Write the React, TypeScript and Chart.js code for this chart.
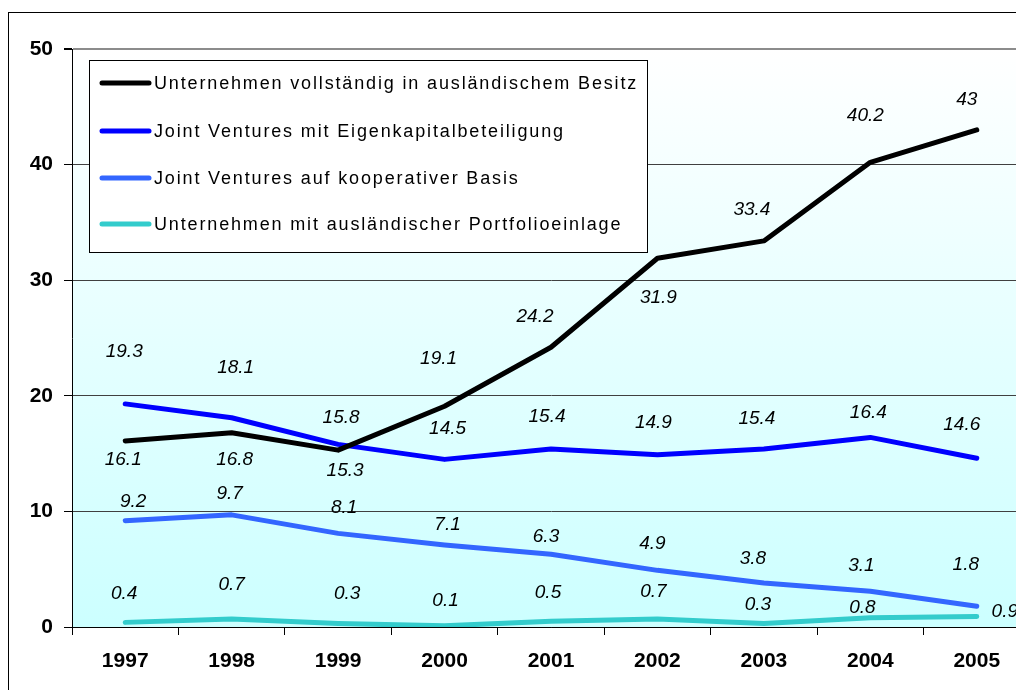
import React, { useEffect, useRef } from 'react';
import { Chart, registerables } from 'chart.js';

Chart.register(...registerables);

const categories = ['1997', '1998', '1999', '2000', '2001', '2002', '2003', '2004', '2005'];
const seriesNames = [
  'Unternehmen vollständig in ausländischem Besitz',
  'Joint Ventures mit Eigenkapitalbeteiligung',
  'Joint Ventures auf kooperativer Basis',
  'Unternehmen mit ausländischer Portfolioeinlage',
];
const whollyForeignOwned = [16.1, 16.8, 15.3, 19.1, 24.2, 31.9, 33.4, 40.2, 43];
const equityJointVentures = [19.3, 18.1, 15.8, 14.5, 15.4, 14.9, 15.4, 16.4, 14.6];
const cooperativeJointVentures = [9.2, 9.7, 8.1, 7.1, 6.3, 4.9, 3.8, 3.1, 1.8];
const portfolioInvestment = [0.4, 0.7, 0.3, 0.1, 0.5, 0.7, 0.3, 0.8, 0.9];
const yTickValues = [0, 10, 20, 30, 40, 50];

// styling (kept separate from data)
const seriesColors = ['#000000', '#0000FF', '#3366FF', '#33CCCC'];
// label placement offsets in px relative to each point: [dx, dy]
const labelOffsets: number[][][] = [
  [[-2, 19], [3, 27], [7, 21], [-6, -47], [-16, -31], [1, 39], [-12, -31], [-5, -47], [-10, -30]],
  [[-1, -52], [4, -50], [3, -27], [3, -31], [-4, -32], [-4, -32], [-7, -30], [-2, -25], [-15, -34]],
  [[8, -19], [-2, -21], [6, -26], [3, -20], [-5, -17], [-5, -27], [-11, -24], [-9, -25], [-11, -41]],
  [[-1, -29], [0, -34], [9, -30], [1, -25], [-3, -29], [-4, -27], [-6, -19], [-8, -10], [28, -5]],
];

const FONT = "Arial, 'Liberation Sans', sans-serif";

const bgPlugin = {
  id: 'bgPlugin',
  beforeDraw(chart: any) {
    const { ctx, chartArea: a } = chart;
    ctx.save();
    const g = ctx.createLinearGradient(0, a.top, 0, a.bottom);
    g.addColorStop(0, '#FFFFFF');
    g.addColorStop(1, '#CCFFFF');
    ctx.fillStyle = g;
    ctx.fillRect(a.left, a.top, a.right - a.left, a.bottom - a.top);
    ctx.restore();
  },
  afterDraw(chart: any) {
    const { ctx } = chart;
    ctx.save();
    // outer frame
    ctx.strokeStyle = '#000';
    ctx.lineWidth = 1;
    ctx.strokeRect(0.5, 4.5, 3000, 3000);
    ctx.restore();
  },
};

const labelPlugin = {
  id: 'labelPlugin',
  afterDatasetsDraw(chart: any) {
    const { ctx } = chart;
    ctx.save();
    ctx.font = `italic 19px ${FONT}`;
    ctx.fillStyle = '#000';
    ctx.textAlign = 'center';
    ctx.textBaseline = 'middle';
    chart.data.datasets.forEach((ds: any, i: number) => {
      const meta = chart.getDatasetMeta(i);
      meta.data.forEach((pt: any, j: number) => {
        const off = labelOffsets[i][j];
        ctx.fillText(String(ds.data[j]), pt.x + off[0], pt.y + off[1]);
      });
    });
    ctx.restore();
  },
};

const legendPlugin = {
  id: 'legendPlugin',
  afterDraw(chart: any) {
    const { ctx } = chart;
    ctx.save();
    const x0 = 81, y0 = 52, w = 558, h = 192;
    ctx.fillStyle = '#FFFFFF';
    ctx.fillRect(x0, y0, w, h);
    ctx.strokeStyle = '#000';
    ctx.lineWidth = 1;
    ctx.strokeRect(x0 + 0.5, y0 + 0.5, w, h);
    const rows = [75, 123, 170, 216];
    ctx.font = `18px ${FONT}`;
    (ctx as any).letterSpacing = '1.85px';
    ctx.textBaseline = 'middle';
    ctx.textAlign = 'left';
    chart.data.datasets.forEach((ds: any, i: number) => {
      const y = rows[i];
      ctx.strokeStyle = ds.borderColor;
      ctx.lineWidth = 5;
      ctx.lineCap = 'round';
      ctx.beginPath();
      ctx.moveTo(94, y);
      ctx.lineTo(141, y);
      ctx.stroke();
      ctx.fillStyle = '#000';
      ctx.fillText(ds.label, 146, y + 1);
    });
    ctx.restore();
  },
};

export default function App() {
  const ref = useRef<HTMLCanvasElement>(null);
  useEffect(() => {
    const seriesData = [whollyForeignOwned, equityJointVentures, cooperativeJointVentures, portfolioInvestment];
    const chart = new Chart(ref.current!, {
      type: 'line',
      data: {
        labels: categories,
        datasets: seriesData.map((d, i) => ({
          label: seriesNames[i],
          data: d,
          borderColor: seriesColors[i],
          backgroundColor: seriesColors[i],
          borderWidth: 5,
          pointRadius: 0,
          tension: 0,
          borderCapStyle: 'round',
          borderJoinStyle: 'round',
          fill: false,
        })),
      },
      options: {
        responsive: false,
        animation: false,
        devicePixelRatio: 1,
        layout: { padding: { top: 41, right: 18, bottom: 0, left: 0 } },
        plugins: {
          legend: { display: false },
          tooltip: { enabled: false },
          title: { display: false },
        },
        scales: {
          x: {
            type: 'category',
            offset: true,
            afterFit: (s: any) => { s.height = 81; },
            grid: {
              offset: true,
              drawOnChartArea: false,
              drawTicks: true,
              tickLength: 8,
              tickColor: '#000',
              color: '#000',
            },
            border: { display: true, color: '#000', width: 1 },
            ticks: {
              color: '#000',
              font: { family: FONT, size: 21, weight: 'bold' },
              padding: 14,
              maxRotation: 0,
              autoSkip: false,
            },
          },
          y: {
            min: 0,
            max: 50,
            afterFit: (s: any) => { s.width = 64; },
            afterBuildTicks: (s: any) => { s.ticks = yTickValues.map((v) => ({ value: v })); },
            grid: {
              color: (c: any) => (c.tick && c.tick.value === 50 ? '#8C8C8C' : c.tick && c.tick.value === 0 ? '#000' : '#404040'),
              lineWidth: (c: any) => (c.tick && c.tick.value === 50 ? 2 : 1),
              tickLength: 8,
              tickColor: '#000',
            },
            border: { display: true, color: '#000', width: 1 },
            ticks: {
              color: '#000',
              font: { family: FONT, size: 21, weight: 'bold' },
              padding: 11,
            },
          },
        },
      },
      plugins: [bgPlugin, labelPlugin, legendPlugin],
    } as any);
    return () => chart.destroy();
  }, []);
  return (
    <div style={{ position: 'absolute', left: 8, top: 8, width: 1008, height: 682, overflow: 'hidden' }}>
      <canvas ref={ref} width={1040} height={700} style={{ display: 'block' }} />
    </div>
  );
}
